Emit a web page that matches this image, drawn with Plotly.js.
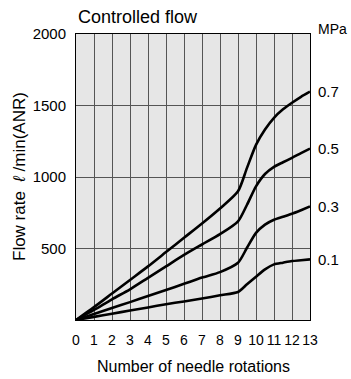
<!DOCTYPE html>
<html>
<head>
<meta charset="utf-8">
<script src="https://cdn.plot.ly/plotly-3.0.1.min.js"></script>
<style>html,body{margin:0;padding:0;background:#fff;}#chart{width:351px;height:379px;}</style>
</head>
<body>
<div id="chart"></div>
<script>
var rotations = [0,1,2,3,4,5,6,7,8,9,9.5,10,10.5,11,11.5,12,12.5,13];
var p07 = [0,90,185,280,375,475,575,675,780,900,1064,1225,1332,1414,1473,1519,1561,1597];
var p05 = [0,70,145,215,295,375,455,528,600,690,806,935,1021,1071,1103,1134,1167,1199];
var p03 = [0,42,84,125,168,210,253,297,335,400,505,609,667,701,722,743,768,794];
var p01 = [0,22,44,66,88,110,130,150,173,196,250,303,354,389,401,412,418,424];
var seriesNames = ['0.7','0.5','0.3','0.1'];
var seriesVals = [p07,p05,p03,p01];
var xTicks = [0,1,2,3,4,5,6,7,8,9,10,11,12,13];
var yTicks = [500,1000,1500,2000];

var font = '"Liberation Sans", Arial, Helvetica, sans-serif';
var traces = seriesVals.map(function(v, i){
  return {x: rotations, y: v, type: 'scatter', mode: 'lines', name: seriesNames[i],
    line: {color: '#000', width: 2.6, shape: 'spline', smoothing: 0.7}, hoverinfo: 'skip'};
});
var annotations = seriesVals.map(function(v, i){
  return {x: rotations[rotations.length-1], y: v[v.length-1], xref: 'x', yref: 'y',
    text: seriesNames[i], showarrow: false, xanchor: 'left', yanchor: 'middle', xshift: 6,
    font: {family: font, size: 15, color: '#000'}};
});
annotations.push({xref: 'paper', yref: 'paper', x: 1, y: 1, xshift: 6, yshift: 5, xanchor: 'left', yanchor: 'middle',
  text: 'MPa', showarrow: false, font: {family: font, size: 14, color: '#000'}});
annotations.push({xref: 'paper', yref: 'paper', x: 0, y: 1, xshift: 0, yshift: 17, xanchor: 'left', yanchor: 'middle',
  text: 'Controlled flow', showarrow: false, font: {family: font, size: 18, color: '#000'}});
annotations.push({xref: 'paper', yref: 'paper', x: 0.5, y: 0, yshift: -46, xanchor: 'center', yanchor: 'middle',
  text: 'Number of needle rotations', showarrow: false, font: {family: font, size: 16, color: '#000'}});
annotations.push({xref: 'paper', yref: 'paper', x: 0, y: 0.5, xshift: -57, xanchor: 'center', yanchor: 'middle', textangle: -90,
  text: 'Flow rate  <i>ℓ</i> /min(ANR)', showarrow: false, font: {family: font, size: 17, color: '#000'}});

var layout = {
  width: 351, height: 379,
  margin: {l: 76, r: 41, t: 34, b: 59, pad: 0},
  paper_bgcolor: '#fff', plot_bgcolor: '#e6e6e6',
  showlegend: false,
  xaxis: {range: [0, 13], tickvals: xTicks, ticktext: xTicks.map(String), tickangle: 0,
    showgrid: true, gridcolor: '#555', gridwidth: 1, zeroline: false,
    showline: true, linecolor: '#000', linewidth: 1, mirror: true,
    ticks: 'outside', ticklen: 7, tickcolor: 'rgba(0,0,0,0)',
    tickfont: {family: font, size: 14, color: '#000'}},
  yaxis: {range: [0, 2000], tickvals: yTicks, ticktext: yTicks.map(String),
    showgrid: true, gridcolor: '#555', gridwidth: 1, zeroline: false,
    showline: true, linecolor: '#000', linewidth: 1, mirror: true,
    ticks: 'outside', ticklen: 6, tickcolor: 'rgba(0,0,0,0)',
    tickfont: {family: font, size: 15, color: '#000'}},
  annotations: annotations
};
Plotly.newPlot('chart', traces, layout, {displayModeBar: false, staticPlot: true});
</script>
</body>
</html>
